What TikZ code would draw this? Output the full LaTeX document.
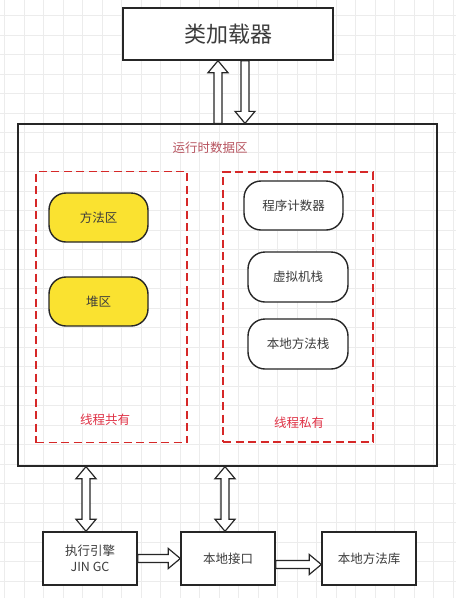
\documentclass[tikz,border=0pt]{standalone}
\usepackage{fontspec}
\setmainfont{Noto Sans CJK SC}
\usetikzlibrary{calc}
\definecolor{gridc}{RGB}{236,236,236}
\definecolor{dashred}{RGB}{214,40,40}
\definecolor{titlered}{RGB}{184,84,96}
\definecolor{labred}{RGB}{224,50,70}
\definecolor{yel}{RGB}{250,226,48}
\definecolor{txt}{RGB}{60,60,60}
\def\sw{4pt}\def\hw{10pt}\def\hl{12pt}
\newcommand\flexarrow[2]{%
 \draw[hollow] let \p1=(#1), \p2=(#2), \n1={veclen(\x2-\x1,\y2-\y1)},
   \n2={(\x2-\x1)/\n1}, \n3={(\y2-\y1)/\n1} in
  ({\x1-(\n3)*\sw},{\y1+(\n2)*\sw})
  -- ({\x2-(\n2)*\hl-(\n3)*\sw},{\y2-(\n3)*\hl+(\n2)*\sw})
  -- ({\x2-(\n2)*\hl-(\n3)*\hw},{\y2-(\n3)*\hl+(\n2)*\hw})
  -- (\x2,\y2)
  -- ({\x2-(\n2)*\hl+(\n3)*\hw},{\y2-(\n3)*\hl-(\n2)*\hw})
  -- ({\x2-(\n2)*\hl+(\n3)*\sw},{\y2-(\n3)*\hl-(\n2)*\sw})
  -- ({\x1+(\n3)*\sw},{\y1-(\n2)*\sw}) -- cycle;}
\newcommand\dflexarrow[2]{%
 \draw[hollow] let \p1=(#1), \p2=(#2), \n1={veclen(\x2-\x1,\y2-\y1)},
   \n2={(\x2-\x1)/\n1}, \n3={(\y2-\y1)/\n1} in
  ({\x1+(\n2)*\hl-(\n3)*\sw},{\y1+(\n3)*\hl+(\n2)*\sw})
  -- ({\x2-(\n2)*\hl-(\n3)*\sw},{\y2-(\n3)*\hl+(\n2)*\sw})
  -- ({\x2-(\n2)*\hl-(\n3)*\hw},{\y2-(\n3)*\hl+(\n2)*\hw})
  -- (\x2,\y2)
  -- ({\x2-(\n2)*\hl+(\n3)*\hw},{\y2-(\n3)*\hl-(\n2)*\hw})
  -- ({\x2-(\n2)*\hl+(\n3)*\sw},{\y2-(\n3)*\hl-(\n2)*\sw})
  -- ({\x1+(\n2)*\hl+(\n3)*\sw},{\y1+(\n3)*\hl-(\n2)*\sw})
  -- ({\x1+(\n2)*\hl+(\n3)*\hw},{\y1+(\n3)*\hl-(\n2)*\hw})
  -- (\x1,\y1)
  -- ({\x1+(\n2)*\hl-(\n3)*\hw},{\y1+(\n3)*\hl+(\n2)*\hw})
  -- cycle;}
\tikzset{
  hollow/.style={draw=black!85, fill=white, line width=1.2pt, line join=miter},
  sqbox/.style={draw=black!85, line width=1.4pt, fill=white, minimum width=94pt, minimum height=53pt, inner sep=0pt, align=center, text=txt, font=\fontsize{12.5}{16}\selectfont},
  pill/.style={draw=black!85, line width=1.4pt, rounded corners=17pt, minimum width=99pt, minimum height=49pt, inner sep=0pt, text=txt, font=\fontsize{12.5}{15}\selectfont},
  yfill/.style={fill=yel},
  wfill/.style={fill=white},
  dbox/.style={draw=dashred, line width=1.8pt, dash pattern=on 8pt off 4.5pt, inner sep=0pt},
  lab/.style={text=labred, font=\fontsize{12.5}{15}\selectfont, inner sep=0pt},
}
\begin{document}
\begin{tikzpicture}[x=1pt,y=-1pt]
\useasboundingbox (0,0) rectangle (456,598);
\fill[white] (0,0) rectangle (456,598);
\foreach \gx in {4.5,24,...,456} \draw[gridc, line width=0.6pt] (\gx,0) -- (\gx,598);
\foreach \gy in {15.5,35,...,598} \draw[gridc, line width=0.6pt] (0,\gy) -- (456,\gy);

\node[draw=black!85, line width=1.4pt, fill=white, minimum width=210pt, minimum height=52pt, inner sep=0pt, text=txt, font=\fontsize{22}{26}\selectfont] (loader) at (228,34) {类加载器};
\node[draw=black!85, line width=1.3pt, minimum width=419pt, minimum height=342pt, inner sep=0pt] (main) at (227.5,295) {};
\node[text=titlered, font=\fontsize{12.5}{15}\selectfont, inner sep=0pt] (title) at (210,148) {运行时数据区};

\node[dbox, minimum width=151pt, minimum height=271pt] (shared) at (111.5,307) {};
\node[dbox, minimum width=150pt, minimum height=270pt] (private) at (298,307) {};

\node[pill, yfill] (method) at (98.5,217.5) {方法区};
\node[pill, yfill] (heap) at (98.5,301.5) {堆区};
\node[lab] (sharedlab) at (105,420) {线程共有};

\node[pill, wfill] (pc) at (293.5,205.5) {程序计数器};
\node[pill, wfill, minimum width=100pt, minimum height=50pt] (vms) at (298,277) {虚拟机栈};
\node[pill, wfill, minimum width=100pt, minimum height=50pt] (nms) at (298,344) {本地方法栈};
\node[lab] (privlab) at (299,423) {线程私有};

\node[sqbox] (exec) at (90,558.5) {执行引擎\\JIN GC};
\node[sqbox] (jni) at (228,558.5) {本地接口};
\node[sqbox] (lib) at (369,558.5) {本地方法库};

% loader arrows
\coordinate (upS) at (main.north -| 218,0);
\coordinate (upE) at (loader.south -| 218,0);
\coordinate (dnS) at (loader.south -| 245,0);
\coordinate (dnE) at (main.north -| 245,0);
\flexarrow{upS}{upE}
\flexarrow{dnS}{dnE}

% bottom double arrows
\coordinate (b1S) at (main.south -| 86,0);
\coordinate (b1E) at (exec.north -| 86,0);
\coordinate (b2S) at (main.south -| 225,0);
\coordinate (b2E) at (jni.north -| 225,0);
\dflexarrow{b1S}{b1E}
\dflexarrow{b2S}{b2E}

% horizontal arrows
\coordinate (h1S) at (exec.east);
\coordinate (h1E) at (jni.west);
\coordinate (h2S) at ($(jni.east)+(0,6)$);
\coordinate (h2E) at ($(lib.west)+(0,6)$);
\flexarrow{h1S}{h1E}
\flexarrow{h2S}{h2E}
\end{tikzpicture}
\end{document}
